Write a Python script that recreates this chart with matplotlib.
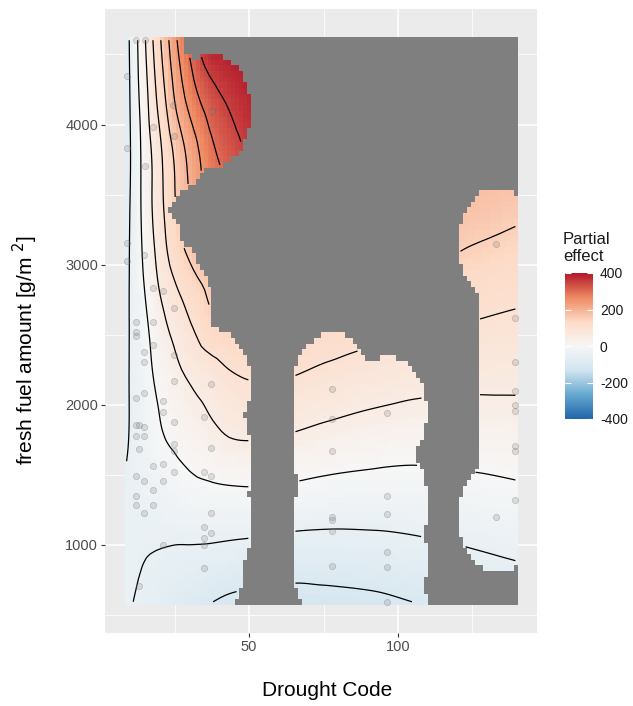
import numpy as np
import matplotlib
matplotlib.use('Agg')
import matplotlib.pyplot as plt
import matplotlib.tri as mtri
from matplotlib.colors import LinearSegmentedColormap

plt.rcParams['font.family'] = ['Liberation Sans', 'DejaVu Sans']

# observations: Drought Code and fresh fuel amount
obs_dc = [12.1, 15.2, 8.9, 24.4, 37.5, 17.9, 24.7, 8.9, 15.0, 8.9,
          8.9, 14.8, 17.9, 21.2, 24.7, 12.1, 17.9, 12.1, 12.1, 17.9,
          14.8, 24.7, 14.8, 24.7, 37.2, 14.8, 12.1, 21.2, 21.2, 34.9,
          24.7, 12.1, 13.0, 14.8, 12.1, 14.8, 13.0, 24.7, 24.7, 37.2,
          17.9, 21.2, 24.7, 34.9, 37.2, 12.1, 14.8, 21.2, 17.9, 12.1,
          12.1, 17.9, 14.8, 37.2, 34.9, 37.2, 34.9, 34.9, 21.2, 34.9,
          13.0, 77.7, 77.7, 96.3, 77.7, 96.3, 96.3, 77.7, 77.7, 77.7,
          96.3, 96.3, 77.7, 96.3, 133.0, 139.4, 139.4, 139.4, 139.4, 139.4,
          139.4, 139.4, 139.4, 133.0]
obs_fuel = [4602, 4602, 4345, 4136, 4096, 3982, 3918, 3835, 3704, 3153,
            3027, 3067, 2830, 2813, 2687, 2587, 2587, 2516, 2492, 2426,
            2374, 2356, 2302, 2167, 2148, 2081, 2046, 2024, 1946, 1910,
            1873, 1852, 1855, 1841, 1775, 1775, 1684, 1720, 1672, 1691,
            1565, 1577, 1522, 1522, 1487, 1487, 1458, 1458, 1387, 1351,
            1280, 1280, 1226, 1226, 1126, 1083, 1050, 1000, 995, 834,
            706, 2112, 1900, 1941, 1666, 1351, 1216, 1200, 1173, 1100,
            948, 841, 850, 592, 3145, 2616, 2302, 2096, 1996, 1953,
            1702, 1666, 1316, 1200]

# partial effect of the smooth, read on a coarse lattice
dc_nodes = [8, 10, 12, 15, 18, 22, 26, 31, 37, 44, 52, 62, 75, 90, 105, 122, 140]
fuel_nodes = [580, 1000, 1400, 1800, 2200, 2600, 3000, 3400, 3800, 4200, 4620]
eff_0580 = [-44, -48, -52, -58, -63, -71, -79, -88, -100, -110, -115, -119, -116, -111, -101, -85, -75]
eff_1000 = [-40, -42, -44, -47, -48, -49, -50, -50, -51, -54, -57, -62, -64, -62, -57, -49, -40]
eff_1400 = [-49, -44, -40, -36, -31, -24, -17, -10, -6, -3, -2, -5, -12, -16, -17, -12, -5]
eff_1800 = [-60, -48, -38, -25, -12, 3, 13, 25, 40, 55, 58, 52, 41, 31, 24, 26, 28]
eff_2200 = [-62, -48, -36, -17, 1, 20, 40, 58, 75, 95, 104, 102, 89, 77, 68, 62, 61]
eff_2600 = [-65, -48, -34, -8, 16, 49, 74, 105, 140, 155, 162, 152, 137, 123, 112, 102, 93]
eff_3000 = [-70, -48, -26, 8, 41, 88, 120, 153, 180, 200, 210, 212, 205, 185, 162, 140, 125]
eff_3400 = [-77, -50, -23, 17, 57, 108, 156, 205, 250, 280, 295, 298, 280, 250, 215, 175, 160]
eff_3800 = [-82, -53, -26, 21, 60, 118, 169, 226, 286, 328, 360, 368, 345, 305, 255, 200, 185]
eff_4200 = [-83, -50, -17, 31, 85, 152, 218, 280, 330, 362, 388, 398, 380, 340, 290, 230, 210]
eff_4620 = [-82, -46, -11, 46, 106, 181, 254, 325, 395, 410, 420, 425, 405, 365, 315, 260, 235]

contour_levels = [-100, -50, 0, 50, 100, 150, 200, 250, 300, 350]
legend_ticks = [-400, -200, 0, 200, 400]
too_far = 0.1
n_grid = 100

# smooth surface through the lattice (normalised so both axes count alike)
X, Y = np.meshgrid(dc_nodes, fuel_nodes)
Z = np.array([eff_0580, eff_1000, eff_1400, eff_1800, eff_2200, eff_2600,
              eff_3000, eff_3400, eff_3800, eff_4200, eff_4620], dtype=float)
x0, x1 = min(dc_nodes), max(dc_nodes)
y0, y1 = min(fuel_nodes), max(fuel_nodes)
nx, ny = len(dc_nodes), len(fuel_nodes)
tris = []
for j in range(ny - 1):
    for i in range(nx - 1):
        a = j * nx + i
        tris.append([a, a + 1, a + nx + 1])
        tris.append([a, a + nx + 1, a + nx])
tri = mtri.Triangulation(((X - x0) / (x1 - x0)).ravel(),
                         ((Y - y0) / (y1 - y0)).ravel(), tris)
surf = mtri.CubicTriInterpolator(tri, Z.ravel(), kind='geom')

# prediction grid over the range of the observations
dc = np.array(obs_dc)
fuel = np.array(obs_fuel)
gx = np.linspace(dc.min(), dc.max(), n_grid)
gy = np.linspace(fuel.min(), fuel.max(), n_grid)
GX, GY = np.meshgrid(gx, gy)
fit = np.asarray(surf((GX - x0) / (x1 - x0), (GY - y0) / (y1 - y0)))

# drop cells too far from any observation
sx = (GX - gx[0]) / (gx[-1] - gx[0])
sy = (GY - gy[0]) / (gy[-1] - gy[0])
ox = (dc - gx[0]) / (gx[-1] - gx[0])
oy = (fuel - gy[0]) / (gy[-1] - gy[0])
dist = np.sqrt((sx[..., None] - ox) ** 2 + (sy[..., None] - oy) ** 2).min(axis=-1)
fit = np.ma.masked_where(dist > too_far, fit)

cmap = LinearSegmentedColormap.from_list(
    'rdbu', ['#2166AC', '#67A9CF', '#D1E5F0', '#F7F7F7', '#FDDBC7', '#EF8A62', '#B2182B'])
cmap.set_bad('#7F7F7F')

fig = plt.figure(figsize=(6.33, 7.06), dpi=100)
ax = fig.add_axes([105 / 633, 73 / 706, 432 / 633, 624 / 706])
ax.set_facecolor('#EBEBEB')

hx = (gx[1] - gx[0]) / 2
hy = (gy[1] - gy[0]) / 2
extent = [gx[0] - hx, gx[-1] + hx, gy[0] - hy, gy[-1] + hy]
ax.imshow(fit, origin='lower', extent=extent, aspect='auto', cmap=cmap,
          vmin=-400, vmax=400, interpolation='nearest', zorder=2)
ax.contour(gx, gy, fit, levels=contour_levels, colors='black',
           linewidths=0.9, linestyles='solid', zorder=3)
ax.scatter(dc, fuel, s=20, facecolors=(0.5, 0.5, 0.5, 0.22),
           edgecolors=(0.4, 0.4, 0.4, 0.3), linewidths=0.6, zorder=4)

rx = extent[1] - extent[0]
ry = extent[3] - extent[2]
ax.set_xlim(extent[0] - 0.05 * rx, extent[1] + 0.05 * rx)
ax.set_ylim(extent[2] - 0.05 * ry, extent[3] + 0.05 * ry)

ax.set_xticks([50, 100])
ax.set_xticks([25, 75, 125], minor=True)
ax.set_yticks([1000, 2000, 3000, 4000])
ax.set_yticks([500, 1500, 2500, 3500, 4500], minor=True)
ax.grid(which='major', color='white', linewidth=1.1)
ax.grid(which='minor', color='white', linewidth=0.55)
ax.set_axisbelow(True)
for s in ax.spines.values():
    s.set_visible(False)
ax.tick_params(which='major', length=2.7, width=0.8, color='#333333',
               labelcolor='#4D4D4D', labelsize=10.5, pad=2.2)
ax.tick_params(which='minor', length=0)

fig.text(327 / 633, 1 - 690 / 706, 'Drought Code', ha='center', va='center',
         fontsize=15, color='black')
fig.text(25 / 633, 1 - 350 / 706, 'fresh fuel amount [g/m $^{2}$]', ha='center',
         va='center', rotation=90, fontsize=15, color='black')

# colour bar legend
cax = fig.add_axes([565 / 633, 1 - 419 / 706, 28 / 633, 146 / 706])
cax.imshow(np.linspace(-400, 400, 256)[:, None], origin='lower', aspect='auto',
           extent=[0, 1, -400, 400], cmap=cmap, vmin=-400, vmax=400)
cax.set_xticks([])
cax.set_yticks(legend_ticks)
cax.set_yticklabels([str(t) for t in legend_ticks])
cax.tick_params(axis='y', left=True, right=True, labelleft=False, labelright=True,
                direction='in', length=4, width=0.8, color='white',
                labelsize=10, labelcolor='#1A1A1A', pad=5)
for s in cax.spines.values():
    s.set_visible(False)
fig.text(563 / 633, 1 - 248 / 706, 'Partial\neffect', ha='left', va='center',
         fontsize=12, color='#1A1A1A')

fig.savefig('out.png', dpi=100)
